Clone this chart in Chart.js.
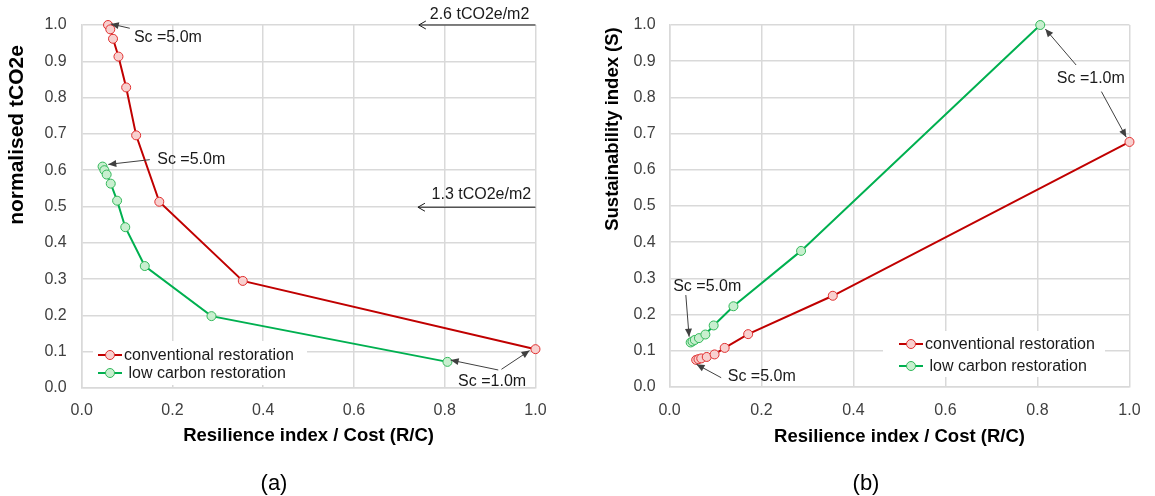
<!DOCTYPE html>
<html><head><meta charset="utf-8">
<script src="https://cdn.jsdelivr.net/npm/chart.js@4.4.1/dist/chart.umd.min.js"></script>
<style>
html,body{margin:0;padding:0;background:#fff;}
body{width:1155px;height:496px;position:relative;overflow:hidden;font-family:"Liberation Sans",Arial,sans-serif;}
#ca{position:absolute;left:0;top:0;}
#cb{position:absolute;left:580px;top:0;}
.lab{position:absolute;top:483px;font-size:22px;color:#000;transform:translate(-50%,-50%);white-space:nowrap;}
</style></head><body>
<canvas id="ca" width="560" height="496"></canvas>
<canvas id="cb" width="575" height="496"></canvas>
<div class="lab" style="left:274px">(a)</div>
<div class="lab" style="left:866px">(b)</div>
<script>
// ---- data ----
const seriesNames = ['conventional restoration', ' low carbon restoration'];
const convRC  = [0.058, 0.063, 0.069, 0.081, 0.098, 0.120, 0.171, 0.355, 1.000];
const convCO2 = [1.000, 0.988, 0.962, 0.913, 0.828, 0.696, 0.513, 0.295, 0.107];
const convS   = [0.075, 0.077, 0.079, 0.083, 0.090, 0.108, 0.146, 0.252, 0.677];
const lowRC   = [0.046, 0.050, 0.055, 0.064, 0.078, 0.096, 0.139, 0.286, 0.806];
const lowCO2  = [0.610, 0.600, 0.588, 0.563, 0.516, 0.443, 0.336, 0.198, 0.072];
const lowS    = [0.123, 0.126, 0.130, 0.135, 0.145, 0.170, 0.223, 0.376, 1.000];
const xTickValues = [0, 0.2, 0.4, 0.6, 0.8, 1.0];
const yTickValues = [0, 0.1, 0.2, 0.3, 0.4, 0.5, 0.6, 0.7, 0.8, 0.9, 1.0];
const xTitle = 'Resilience index / Cost (R/C)';
const yTitleA = 'normalised tCO2e';
const yTitleB = 'Sustainability index (S)';

// annotations (in data coordinates)
const annotA = [
  {text:'Sc =5.0m', tx:0.115, ty:0.966, arrows:[[0.106,0.991,0.064,1.003]], head:'fill'},
  {text:'Sc =5.0m', tx:0.1665, ty:0.630, arrows:[[0.150,0.629,0.0586,0.616]], head:'fill'},
  {text:'Sc =1.0m', tx:0.8295, ty:0.019, arrows:[[0.918,0.0496,0.813,0.077],[0.925,0.0515,0.987,0.103]], head:'fill'},
  {text:'2.6 tCO2e/m2', tx:0.767, ty:1.0275, arrows:[[1.0,1.0,0.743,1.0]], head:'open', dark:true},
  {text:'1.3 tCO2e/m2', tx:0.771, ty:0.534, arrows:[[1.0,0.498,0.741,0.498]], head:'open', dark:true}
];
const annotB = [
  {text:'Sc =1.0m', tx:0.842, ty:0.853, arrows:[[0.884,0.8895,0.817,0.989],[0.939,0.816,0.993,0.690]], head:'fill'},
  {text:'Sc =5.0m', tx:0.008, ty:0.277, arrows:[[0.0355,0.254,0.0426,0.139]], head:'fill'},
  {text:'Sc =5.0m', tx:0.1266, ty:0.030, arrows:[[0.1124,0.0257,0.0586,0.0627]], head:'fill'}
];

// ---- styles ----
const FONT = '"Liberation Sans", Arial, sans-serif';
const RED = '#c00000', RED_PT = '#e03030', RED_FILL = '#f8d0cf';
const GRN = '#00b050', GRN_PT = '#33b85a', GRN_FILL = '#c8efcf';
const GRID = '#d9d9d9';

function pts(xs, ys){ return xs.map((x,i)=>({x:x, y:ys[i]})); }

function ds(label, data, line, ptB, ptF){
  return {label, data, showLine:true, borderColor:line, borderWidth:2,
    pointRadius:4.5, pointBorderWidth:1, pointBorderColor:ptB, pointBackgroundColor:ptF,
    backgroundColor:ptF, clip:false, tension:0};
}

function drawArrow(ctx, x1,y1,x2,y2, head, color){
  ctx.save();
  ctx.strokeStyle = color; ctx.fillStyle = color; ctx.lineWidth = 1;
  ctx.beginPath(); ctx.moveTo(x1,y1); ctx.lineTo(x2,y2); ctx.stroke();
  const a = Math.atan2(y2-y1, x2-x1);
  if (head === 'fill') {
    const L = 8, W = 3.5;
    ctx.beginPath();
    ctx.moveTo(x2,y2);
    ctx.lineTo(x2 - L*Math.cos(a) + W*Math.sin(a), y2 - L*Math.sin(a) - W*Math.cos(a));
    ctx.lineTo(x2 - L*Math.cos(a) - W*Math.sin(a), y2 - L*Math.sin(a) + W*Math.cos(a));
    ctx.closePath(); ctx.fill();
  } else {
    const L = 7, W = 4;
    ctx.beginPath();
    ctx.moveTo(x2 - L*Math.cos(a) + W*Math.sin(a), y2 - L*Math.sin(a) - W*Math.cos(a));
    ctx.lineTo(x2,y2);
    ctx.lineTo(x2 - L*Math.cos(a) - W*Math.sin(a), y2 - L*Math.sin(a) + W*Math.cos(a));
    ctx.stroke();
  }
  ctx.restore();
}

function decor(opts){
  return {
    id:'decor',
    beforeDatasetsDraw(chart){
      const ctx = chart.ctx, L = opts.legend;
      ctx.save();
      ctx.fillStyle = '#fff';
      ctx.fillRect(L.box[0], L.box[1], L.box[2], L.box[3]);
      const items = [[RED, RED_PT, RED_FILL],[GRN, GRN_PT, GRN_FILL]];
      items.forEach((c,i)=>{
        const y = L.rows[i];
        ctx.strokeStyle = c[0]; ctx.lineWidth = 2;
        ctx.beginPath(); ctx.moveTo(L.x0, y); ctx.lineTo(L.x0+24, y); ctx.stroke();
        ctx.beginPath(); ctx.arc(L.x0+12, y, 4.5, 0, Math.PI*2);
        ctx.fillStyle = c[2]; ctx.fill();
        ctx.lineWidth = 1; ctx.strokeStyle = c[1]; ctx.stroke();
        ctx.fillStyle = '#1a1a1a';
        ctx.font = '16px ' + FONT; ctx.textBaseline = 'middle'; ctx.textAlign = 'left';
        ctx.fillText(seriesNames[i], L.x0+26, y+1);
      });
      ctx.restore();
    },
    afterDatasetsDraw(chart){
      const ctx = chart.ctx, sx = chart.scales.x, sy = chart.scales.y;
      ctx.save();
      opts.annot.forEach(a=>{
        a.arrows.forEach(r=>{
          drawArrow(ctx, sx.getPixelForValue(r[0]), sy.getPixelForValue(r[1]),
                    sx.getPixelForValue(r[2]), sy.getPixelForValue(r[3]), a.head,
                    a.dark ? '#1a1a1a' : '#404040');
        });
        ctx.fillStyle = '#1a1a1a';
        ctx.font = '16px ' + FONT; ctx.textBaseline = 'middle'; ctx.textAlign = 'left';
        ctx.fillText(a.text, sx.getPixelForValue(a.tx), sy.getPixelForValue(a.ty));
      });
      // y title
      ctx.translate(opts.yTitle.x, opts.yTitle.y);
      ctx.rotate(-Math.PI/2);
      ctx.fillStyle = '#000';
      ctx.font = 'bold ' + opts.yTitle.size + 'px ' + FONT;
      ctx.textAlign = 'center'; ctx.textBaseline = 'middle';
      ctx.fillText(opts.yTitle.text, 0, 0);
      ctx.restore();
    }
  };
}

function makeChart(id, datasets, o){
  return new Chart(document.getElementById(id), {
    type:'scatter',
    data:{datasets},
    options:{
      responsive:false, animation:false, devicePixelRatio:1,
      layout:{padding:{left:0, top:25, right:o.padRight, bottom:0}},
      plugins:{legend:{display:false}, tooltip:{enabled:false}},
      scales:{
        x:{type:'linear', min:0, max:1,
          afterBuildTicks:(s)=>{ s.ticks = xTickValues.map(v=>({value:v})); },
          afterFit:(s)=>{ s.height = o.xHeight; },
          ticks:{callback:(v)=>Number(v).toFixed(1), font:{family:FONT, size:16}, color:'#404040', padding:o.xTickPad, maxRotation:0},
          grid:{color:GRID, lineWidth:1.5, drawTicks:false},
          border:{color:GRID, width:1.5},
          title:{display:true, text:xTitle, color:'#000', font:{family:FONT, size:18.5, weight:'bold'}, padding:{top:0, bottom:o.xTitlePad}}
        },
        y:{type:'linear', min:0, max:1,
          afterBuildTicks:(s)=>{ s.ticks = yTickValues.map(v=>({value:v})); },
          afterFit:(s)=>{ s.width = o.yWidth; },
          ticks:{callback:(v)=>Number(v).toFixed(1), font:{family:FONT, size:16}, color:'#404040', padding:o.yTickPad},
          grid:{color:GRID, lineWidth:1.5, drawTicks:false},
          border:{color:GRID, width:1.5}
        }
      }
    },
    plugins:[decor(o)]
  });
}

makeChart('ca', [
  ds(seriesNames[0], pts(convRC, convCO2), RED, RED_PT, RED_FILL),
  ds(seriesNames[1], pts(lowRC, lowCO2), GRN, GRN_PT, GRN_FILL)
], {
  padRight:24.3, xHeight:108, yWidth:81.7, xTickPad:13.4, xTitlePad:49.2, yTickPad:15,
  legend:{box:[93, 341, 214, 44], x0:98, rows:[355, 373]},
  annot:annotA,
  yTitle:{text:yTitleA, x:17, y:135, size:21}
});

makeChart('cb', [
  ds(seriesNames[0], pts(convRC, convS), RED, RED_PT, RED_FILL),
  ds(seriesNames[1], pts(lowRC, lowS), GRN, GRN_PT, GRN_FILL)
], {
  padRight:21, xHeight:109, yWidth:89.5, xTickPad:14.4, xTitlePad:48.2, yTickPad:13.8,
  legend:{box:[303, 331, 222, 46], x0:319, rows:[344, 366]},
  annot:annotB,
  yTitle:{text:yTitleB, x:33, y:129, size:18.5}
});
</script>
</body></html>
